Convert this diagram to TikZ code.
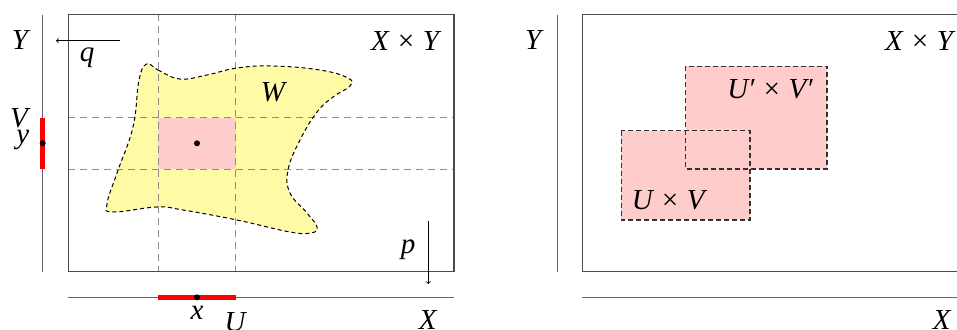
\documentclass[tikz,border=0pt]{standalone}
\usepackage{fontspec}
\setmainfont{Liberation Serif}
\begin{document}
\begin{tikzpicture}[x=1pt,y=-1pt,
  lbl/.style={inner sep=0pt,font=\fontsize{29}{34}\selectfont\itshape},
  frame/.style={draw=black!70,line width=1.4pt},
  axis/.style={draw=black!60,line width=1.4pt},
  grid/.style={draw=black!45,dash pattern=on 7pt off 5pt,line width=1pt},
  region/.style={fill=red!20},
  regionline/.style={draw=black!80,dash pattern=on 5pt off 3pt,line width=1.1pt},
  redseg/.style={draw=red,line width=5pt},
  dotmark/.style={circle,fill=black,inner sep=0pt,minimum size=6pt},
  proj/.style={draw=black,line width=0.9pt,-to}]
\clip (0,0) rectangle (957,329);
\fill[white] (0,0) rectangle (957,329);

% ---------- left panel ----------
\def\blobpts{(146.7,64) (158,70) (180,79) (207,75) (237,68) (273,66) (320,70) (348,78) (350,86)
 (333,97) (317,112) (300,140) (288,170) (290,193) (307,213) (317,227) (311,233)
 (290,232) (237,220) (183,210) (157,207) (113,212) (107,204) (117,173) (133,127) (139,80)}
\fill[fill=yellow!35] plot[smooth cycle,tension=0.7] coordinates {\blobpts};
\fill[region] (158.3,117.7) rectangle (235.7,169);
\draw[grid] (158.3,14.3) -- (158.3,271.7);
\draw[grid] (235.7,14.3) -- (235.7,271.7);
\draw[grid] (68.3,117.7) -- (454,117.7);
\draw[grid] (68.3,169) -- (454,169);
\draw[draw=black,dash pattern=on 4pt off 3pt,line width=1pt] plot[smooth cycle,tension=0.7] coordinates {\blobpts};
\draw[frame] (68.3,14.3) rectangle (454,271.7);
\draw[axis] (42.7,15) -- (42.7,271.7);
\draw[axis] (68.3,297.3) -- (454,297.3);
\draw[redseg] (42.7,117.7) -- (42.7,169);
\draw[redseg] (158.3,297.3) -- (235.7,297.3);
\node[dotmark] (pt) at (197,143.3) {};
\node[dotmark] (py) at (42.7,143.3) {};
\node[dotmark] (px) at (197,297.3) {};

\node[lbl] (XYl) at (405,40.7) {X × Y};
\node[lbl] (W) at (273,92.7) {W};
\node[lbl] (Yl) at (20,40) {Y};
\node[lbl] (V) at (19,118) {V};
\node[lbl] (y) at (22.7,140) {y};
\node[lbl] (x) at (197,313) {x};
\node[lbl] (U) at (235,322) {U};
\node[lbl] (Xl) at (427.7,320) {X};
\node[lbl] (q) at (87,58) {q};
\node[lbl] (p) at (408,250) {p};
\coordinate (qs) at (120,40.7);
\coordinate (qe) at (56,40.7);
\coordinate (ps) at (428.3,220.7);
\coordinate (pe) at (428.3,284);
\draw[proj] (qs) -- (qe);
\draw[proj] (ps) -- (pe);

% ---------- right panel ----------
\fill[region] (621.3,130.7) rectangle (750,220);
\fill[region] (685.7,66.3) rectangle (827,169);
\draw[regionline] (621.3,130.7) rectangle (750,220);
\draw[regionline] (685.7,66.3) rectangle (827,169);
\draw[frame] (582.3,14.3) rectangle (968.3,271.7);
\draw[axis] (557.3,15) -- (557.3,271.7);
\draw[axis] (582.3,297.3) -- (968.3,297.3);
\node[lbl] (Yr) at (533.3,40) {Y};
\node[lbl] (XYr) at (919,40.7) {X × Y};
\node[lbl] (Xr) at (941.7,320) {X};
\node[lbl] (UVp) at (770,89.3) {U′ × V′};
\node[lbl] (UV) at (668.3,200) {U × V};
\end{tikzpicture}
\end{document}
